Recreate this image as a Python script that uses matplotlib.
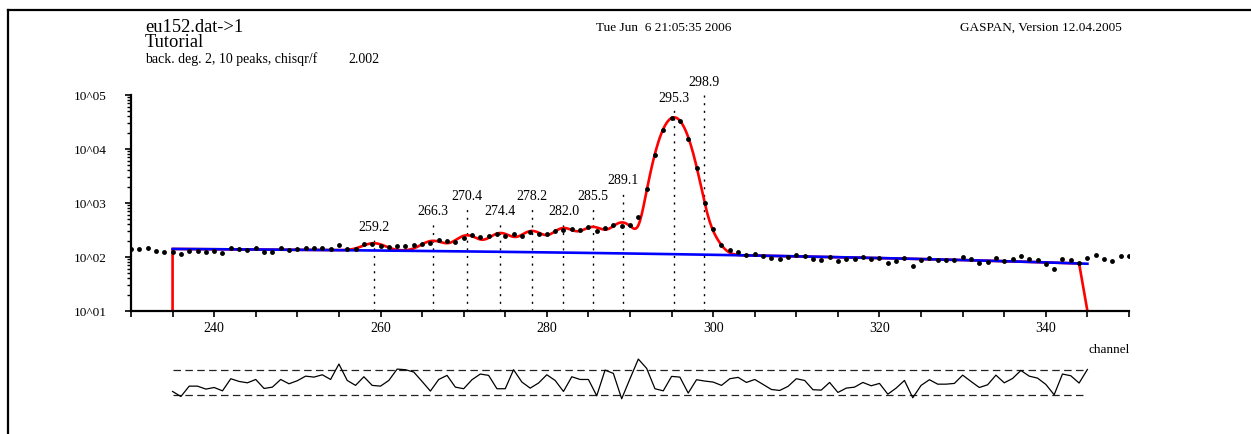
import numpy as np
import matplotlib
matplotlib.use("Agg")
import matplotlib.pyplot as plt
from matplotlib.lines import Line2D
from matplotlib.ticker import FixedLocator, FuncFormatter, LogLocator

plt.rcParams['font.family'] = ['Liberation Serif', 'DejaVu Serif']

# spectrum: counts per channel 230..350
first_chan, last_chan = 230, 350
counts = [141, 142, 149, 131, 122, 125, 112, 127, 131, 125,
          127, 117, 149, 141, 136, 145, 122, 125, 145, 133,
          142, 149, 149, 149, 139, 169, 142, 140, 177, 172,
          157, 155, 163, 158, 164, 177, 180, 206, 198, 187,
          228, 252, 231, 241, 263, 247, 270, 241, 287, 270,
          270, 307, 320, 330, 317, 355, 303, 345, 392, 370,
          397, 543, 1815, 7830, 22750, 37500, 33000, 15500, 4510, 986,
          330, 164, 135, 122, 107, 113, 104, 96, 93, 100,
          111, 106, 91, 89, 101, 83, 92, 92, 99, 92,
          96, 77, 85, 97, 69, 88, 97, 88, 88, 88,
          101, 92, 78, 82, 96, 83, 92, 103, 93, 89,
          74, 60, 91, 88, 76, 96, 110, 91, 83, 103,
          103]

# fit region and quadratic background (read at three channels)
fit_lo, fit_hi = 235, 344
bg_chan = [235, 290, 345]
bg_counts = [141, 116, 75]

# peaks
peak_pos = [259.2, 266.3, 270.4, 274.4, 278.2, 282.0, 285.5, 289.1, 295.3, 298.9]
peak_amp = [48, 70, 124, 150, 176, 215, 230, 315, 38500, 200]
peak_sigma = 1.3
label_counts = [375, 719, 1406, 719, 1406, 719, 1406, 2782, 91800, 181600]

# normalised residuals, channels 235..345
residuals = [-0.73, -1.14, -0.30, -0.30, -0.54, -0.41, -0.68, 0.30, 0.08, -0.03,
             0.24, -0.49, -0.38, 0.24, -0.11, 0.14, 0.51, 0.43, 0.62, 0.24,
             1.49, 0.16, -0.24, 0.46, -0.24, -0.30, 0.16, 1.08, 1.03, 0.84,
             0.08, -0.70, 0.24, 0.57, -0.38, -0.51, 0.22, 0.68, 0.57, -0.51,
             -0.51, 1.03, 0.03, -0.46, -0.05, 0.62, 0.16, -0.73, 0.46, 0.24,
             0.24, -1.08, 1.00, 0.73, -1.32, 0.30, 1.89, 1.14, -0.51, -0.68,
             0.49, 0.43, -0.86, 0.22, 0.11, 0.03, -0.24, 0.30, 0.41, 0.00,
             0.24, -0.16, -0.57, -0.65, -0.32, 0.30, 0.16, -0.59, -0.62, 0.00,
             -0.81, -0.46, -0.38, 0.00, -0.27, -0.08, -0.95, -0.46, 0.16, -1.24,
             -0.24, 0.22, -0.14, -0.14, -0.08, 0.59, 0.08, -0.41, -0.19, 0.59,
             -0.03, 0.32, 0.97, 0.51, 0.35, -0.16, -1.00, 0.68, 0.54, -0.05,
             1.05]
res_lo, res_hi = 235, 345

W, H = 1251, 435
fig = plt.figure(figsize=(W / 100, H / 100), dpi=100)


def fx(px):
    return px / W


def fy(py):
    return 1 - py / H


# outer frame (only top and left edges inside the picture)
fig.add_artist(Line2D([fx(8.3), 1.0], [fy(11), fy(11)], color='black', lw=1.6,
                      transform=fig.transFigure))
fig.add_artist(Line2D([fx(8.3), fx(8.3)], [fy(11), 0.0], color='black', lw=1.6,
                      transform=fig.transFigure))

# header
fig.text(fx(145), fy(32.5), 'eu152.dat->1', fontsize=13.3, va='baseline')
fig.text(fx(145), fy(47), 'Tutorial', fontsize=13.3, va='baseline')
fig.text(fx(145), fy(63), 'back. deg. 2, 10 peaks, chisqr/f', fontsize=10, va='baseline')
fig.text(fx(348), fy(63), '2.002', fontsize=10, va='baseline')
fig.text(fx(596), fy(31), 'Tue Jun  6 21:05:35 2006', fontsize=9.5, va='baseline')
fig.text(fx(960), fy(31), 'GASPAN, Version 12.04.2005', fontsize=9.5, va='baseline')

# main spectrum axes
ymin, ymax = 10, 1e5
ax = fig.add_axes([fx(131), fy(312), (1129 - 131) / W, (312 - 96) / H])
ax.set_xlim(first_chan, last_chan)
ax.set_yscale('log', nonpositive='clip')
ax.set_ylim(ymin, ymax)
for s in ('top', 'right'):
    ax.spines[s].set_visible(False)
for s in ('left', 'bottom'):
    ax.spines[s].set_linewidth(1.6)

ax.xaxis.set_major_locator(FixedLocator(np.arange(230, 351, 5)))
ax.xaxis.set_major_formatter(FuncFormatter(lambda v, p: f"{int(v)}" if int(v) % 20 == 0 and 240 <= v <= 340 else ""))
ax.tick_params(axis='x', direction='out', length=4.5, width=1.2, pad=3, labelsize=10)
ax.yaxis.set_major_locator(FixedLocator([10, 100, 1000, 1e4, 1e5]))
ax.yaxis.set_minor_locator(LogLocator(base=10, subs=np.arange(2, 10)))
ax.yaxis.set_major_formatter(FuncFormatter(lambda v, p: f"10^{int(round(np.log10(v))):02d}"))
ax.tick_params(axis='y', which='major', direction='out', length=4.5, width=1.2, pad=13, labelsize=9.5)
ax.tick_params(axis='y', which='minor', direction='out', length=3, width=1.0)

chan = np.arange(first_chan, last_chan + 1)
coef = np.polyfit(bg_chan, bg_counts, 2)

grid = np.linspace(fit_lo, fit_hi, 1091)
fit = np.polyval(coef, grid)
for p, a in zip(peak_pos, peak_amp):
    fit = fit + a * np.exp(-0.5 * ((grid - p) / peak_sigma) ** 2)
# outside the fit region the curve sits on the axis floor
fit_x = np.concatenate([[fit_lo], grid, [fit_hi + 1]])
fit_y = np.concatenate([[ymin], fit, [ymin]])

bx = np.linspace(bg_chan[0], bg_chan[-1], 111)

# peak markers and labels
for p, ly in zip(peak_pos, label_counts):
    top = ly * 10 ** (-10 / 54)
    ax.plot([p, p], [ymin, top], color='black', lw=1.0, linestyle=(0, (1.5, 4)),
            zorder=1, clip_on=False)
    ax.text(p, ly, f"{p:.1f}", ha='center', va='center', fontsize=10, clip_on=False)

ax.plot(fit_x, fit_y, color='#ff0000', lw=1.9, zorder=2)
ax.plot(bx, np.polyval(coef, bx), color='#0000ff', lw=1.9, zorder=3)
ax.plot(chan, counts, 'o', color='black', ms=3.5, mew=0, zorder=4)

fig.text(fx(1130), fy(350), 'channel', ha='right', va='center', fontsize=9.5)

# residuals
rax = fig.add_axes([fx(131), fy(410), (1129 - 131) / W, 54 / H])
rax.set_xlim(first_chan, last_chan)
rax.set_ylim(-2.15, 2.22)
rax.axis('off')
rchan = np.arange(res_lo, res_hi + 1)
for lev in (1, -1):
    rax.plot([res_lo, res_hi], [lev, lev], color='#222222', lw=0.9, linestyle=(0, (6, 3.5)))
rax.plot(rchan, residuals, color='black', lw=0.9)

fig.savefig('out.png', dpi=100)
